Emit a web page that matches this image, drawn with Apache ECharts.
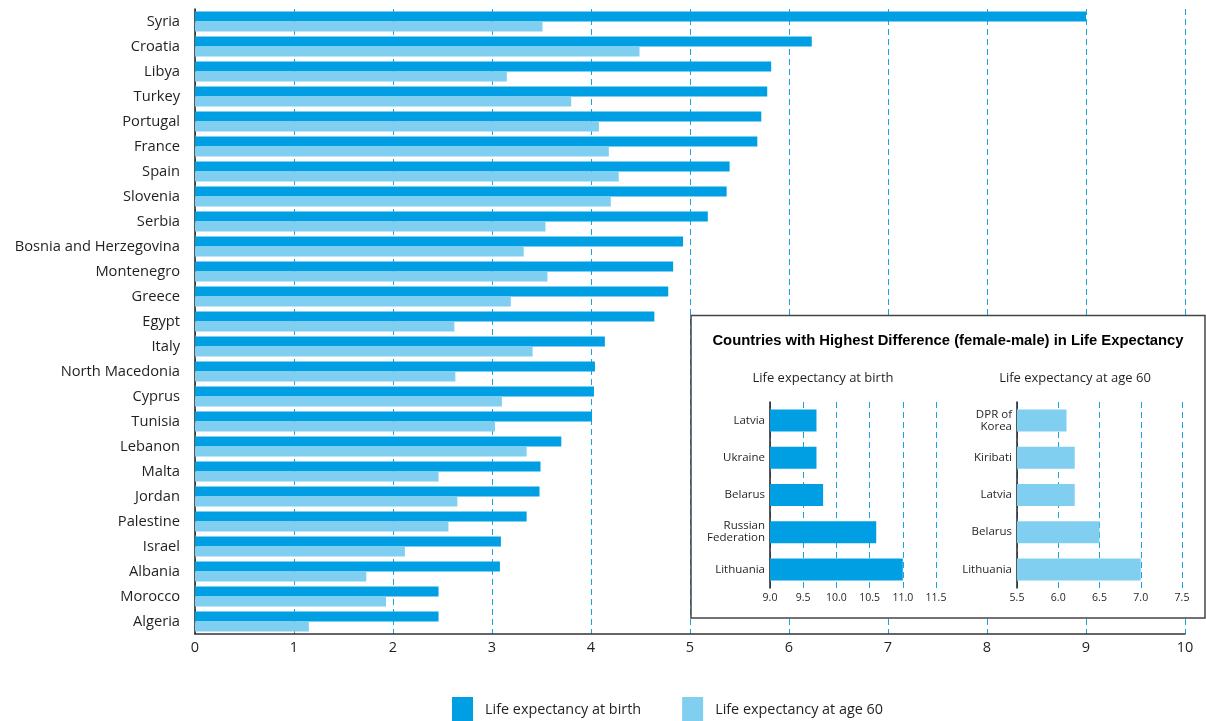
<!DOCTYPE html>
<html>
<head>
<meta charset="utf-8">
<script src="https://cdn.jsdelivr.net/npm/echarts@6/dist/echarts.min.js"></script>
<style>html,body{margin:0;padding:0;background:#fff}#c{width:1206px;height:721px}</style>
</head>
<body>
<div id="c"></div>
<script>
const countries = ["Syria","Croatia","Libya","Turkey","Portugal","France","Spain","Slovenia","Serbia","Bosnia and Herzegovina","Montenegro","Greece","Egypt","Italy","North Macedonia","Cyprus","Tunisia","Lebanon","Malta","Jordan","Palestine","Israel","Albania","Morocco","Algeria"];
const atBirth = [9.0,6.23,5.82,5.78,5.72,5.68,5.4,5.37,5.18,4.93,4.83,4.78,4.64,4.14,4.04,4.03,4.01,3.7,3.49,3.48,3.35,3.09,3.08,2.46,2.46];
const atAge60 = [3.51,4.49,3.15,3.8,4.08,4.18,4.28,4.2,3.54,3.32,3.56,3.19,2.62,3.41,2.63,3.1,3.03,3.35,2.46,2.65,2.56,2.12,1.73,1.93,1.15];

const insetBirthCountries = ["Latvia","Ukraine","Belarus","Russian\nFederation","Lithuania"];
const insetBirthValues = [9.7,9.7,9.8,10.6,11.0];
const insetAge60Countries = ["DPR of\nKorea","Kiribati","Latvia","Belarus","Lithuania"];
const insetAge60Values = [6.1,6.2,6.2,6.5,7.0];

const seriesNames = ["Life expectancy at birth","Life expectancy at age 60"];
const insetTitle = "Countries with Highest Difference (female-male) in Life Expectancy";

const DARK = "#009fe3", LIGHT = "#80cff0", INK = "#231f20", GRIDC = "#1aa3e0";
const FONT = "Open Sans";

const chart = echarts.init(document.getElementById('c'));
const dashed = {show:true, lineStyle:{color:GRIDC, type:[6,4], width:1}};
chart.setOption({
  animation:false,
  textStyle:{fontFamily:FONT},
  legend:{
    data:seriesNames, top:697, left:452, padding:0, itemWidth:21, itemHeight:26, itemGap:41,
    icon:'rect',
    textStyle:{fontSize:14.4, color:INK, fontFamily:FONT, padding:[20,0,0,7]}
  },
  grid:[
    {left:195, right:21, top:9, height:625, containLabel:false},
    {left:770, right:270, top:402, height:186},
    {left:1017, right:24, top:402, height:186}
  ],
  xAxis:[
    {gridIndex:0, type:'value', min:0, max:10, interval:1,
     axisLine:{show:true, lineStyle:{color:'#333', width:1.5}}, axisTick:{show:false},
     axisLabel:{color:INK, fontSize:14.5, margin:6}, splitLine:dashed},
    {gridIndex:1, type:'value', min:9, max:11.5, interval:0.5, z:10,
     axisLine:{show:false}, axisTick:{show:false},
     axisLabel:{color:INK, fontSize:10.5, margin:5, formatter:v=>v.toFixed(1)}, splitLine:dashed},
    {gridIndex:2, type:'value', min:5.5, max:7.5, interval:0.5, z:10,
     axisLine:{show:false}, axisTick:{show:false},
     axisLabel:{color:INK, fontSize:10.5, margin:5, formatter:v=>v.toFixed(1)}, splitLine:dashed}
  ],
  yAxis:[
    {gridIndex:0, type:'category', data:countries, inverse:true,
     axisLine:{show:true, lineStyle:{color:INK, width:1.5}}, axisTick:{show:false},
     axisLabel:{color:INK, fontSize:14.7, margin:15, padding:[3,0,0,0]}},
    {gridIndex:1, type:'category', data:insetBirthCountries, inverse:true, z:10,
     axisLine:{show:true, lineStyle:{color:INK, width:1.5}}, axisTick:{show:false},
     axisLabel:{color:INK, fontSize:11.5, margin:5, lineHeight:12}},
    {gridIndex:2, type:'category', data:insetAge60Countries, inverse:true, z:10,
     axisLine:{show:true, lineStyle:{color:INK, width:1.5}}, axisTick:{show:false},
     axisLabel:{color:INK, fontSize:11.5, margin:5, lineHeight:12}}
  ],
  graphic:[
    {type:'rect', z:5, shape:{x:691, y:315.5, width:514, height:302.5},
     style:{fill:'#fff', stroke:'#444', lineWidth:1.5}},
    {type:'text', z:12, x:948, y:341, style:{text:insetTitle, fill:'#000', font:'bold 14.8px "Liberation Sans", Arial, sans-serif', textAlign:'center', textVerticalAlign:'middle'}},
    {type:'text', z:12, x:823, y:378, style:{text:seriesNames[0], fill:INK, font:'13px "Open Sans", sans-serif', textAlign:'center', textVerticalAlign:'middle'}},
    {type:'text', z:12, x:1075, y:378, style:{text:seriesNames[1], fill:INK, font:'13px "Open Sans", sans-serif', textAlign:'center', textVerticalAlign:'middle'}}
  ],
  series:[
    {name:seriesNames[0], type:'bar', xAxisIndex:0, yAxisIndex:0, data:atBirth, barWidth:10, barGap:'0%', itemStyle:{color:DARK}},
    {name:seriesNames[1], type:'bar', xAxisIndex:0, yAxisIndex:0, data:atAge60, barWidth:10, barGap:'0%', itemStyle:{color:LIGHT}},
    {type:'bar', xAxisIndex:1, yAxisIndex:1, data:insetBirthValues, barWidth:22, z:10, itemStyle:{color:DARK}},
    {type:'bar', xAxisIndex:2, yAxisIndex:2, data:insetAge60Values, barWidth:22, z:10, itemStyle:{color:LIGHT}}
  ]
});
</script>
</body>
</html>
